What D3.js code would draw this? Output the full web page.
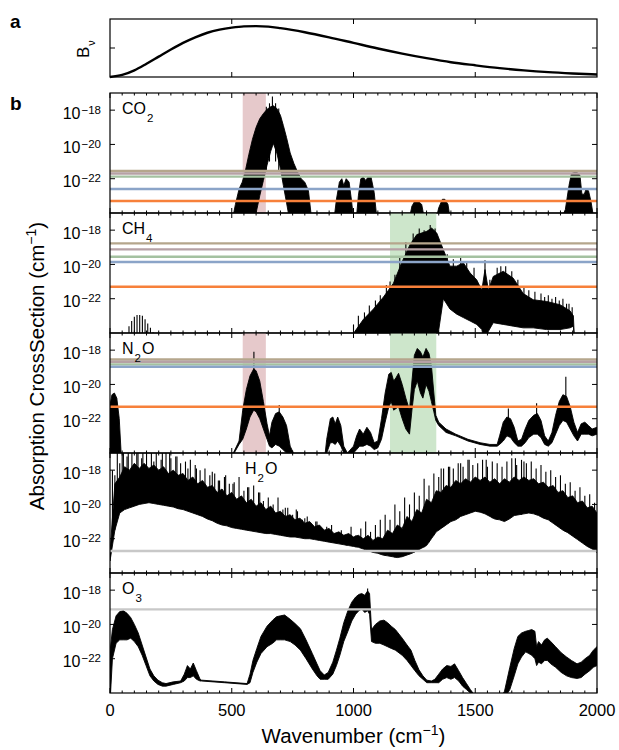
<!DOCTYPE html>
<html>
<head>
<meta charset="utf-8">
<script src="https://cdn.jsdelivr.net/npm/d3@7"></script>
<style>
  body { margin: 0; background: #fff; }
  svg { font-family: "Liberation Sans", Arial, Helvetica, sans-serif; }
</style>
</head>
<body>
<svg id="chart" width="619" height="750"></svg>
<script>
// ---- data (cross sections as log10 exponents) ----
const wnTicks = [0, 500, 1000, 1500, 2000];
const expTicks = [-18, -20, -22];

// panel a: Planck radiance, arbitrary units
const bvWn  = [0, 50, 100, 150, 200, 250, 300, 350, 400, 450, 500, 550, 600, 650, 700, 800, 900, 1000, 1100, 1200, 1300, 1400, 1500, 1600, 1700, 1800, 1900, 2000];
const bvVal = [0, 0.04, 0.13, 0.26, 0.40, 0.54, 0.67, 0.78, 0.87, 0.93, 0.97, 0.995, 1.0, 0.99, 0.96, 0.88, 0.78, 0.67, 0.56, 0.46, 0.37, 0.29, 0.23, 0.175, 0.13, 0.095, 0.07, 0.05];

// each segment: [wavenumber, upper envelope, lower envelope]
const co2Segments = [
  [[500,-24.8,-25],[515,-23.5,-25],[530,-22.6,-25],[543,-22.2,-25],[555,-21.6,-25],[570,-20.6,-25],[585,-19.7,-25],
   [600,-19.0,-24.0],[615,-18.5,-23.0],[630,-18.2,-22.1],[645,-17.95,-21.2],[660,-17.8,-20.4],[671,-17.75,-19.94],
   [685,-17.9,-20.5],[700,-18.3,-21.4],[712,-18.9,-22.4],[725,-19.6,-23.4],[740,-20.5,-24.6],[755,-21.1,-25],
   [770,-21.6,-25],[785,-22.0,-25],[800,-22.2,-25],[815,-22.7,-25],[830,-24.8,-25]],
  [[918,-24.8,-25],[930,-23.2,-25],[942,-22.2,-25],[952,-22.0,-25],[960,-22.4,-25],[970,-22.0,-25],[982,-22.2,-25],[992,-23.3,-25],[1002,-24.8,-25]],
  [[1010,-24.8,-25],[1020,-23.0,-25],[1030,-22.0,-25],[1040,-21.9,-25],[1050,-22.1,-25],[1060,-21.9,-25],[1072,-21.9,-25],[1085,-22.8,-25],[1098,-24.8,-25]],
  [[1225,-24.8,-25],[1240,-23.6,-25],[1252,-23.3,-25],[1265,-23.3,-25],[1280,-23.5,-25],[1295,-24.8,-25]],
  [[1335,-24.8,-25],[1350,-23.7,-25],[1365,-23.2,-25],[1375,-23.2,-25],[1388,-23.5,-25],[1400,-24.8,-25]],
  [[1845,-24.8,-25],[1870,-23.8,-25],[1885,-22.4,-25],[1895,-21.7,-25],[1915,-21.6,-25],[1930,-21.8,-25],[1938,-22.9,-25],
   [1948,-22.9,-25],[1955,-22.6,-25],[1965,-22.7,-25],[1975,-23.3,-25],[1990,-24.8,-25]]
];
const co2Spikes = [[667,-17.2,-20],[655,-17.6,-21],[680,-17.6,-21],[642,-17.8,-21.5],[693,-17.9,-21.5]];

const ch4Segments = [
  [[960,-24.8,-25],[985,-24.3,-25],[1006,-23.9,-25],[1041,-23.2,-25],[1082,-22.6,-25],[1123,-21.9,-25],[1164,-21.1,-25],
   [1198,-19.9,-25],[1232,-18.85,-25],[1260,-18.26,-25],[1301,-18.07,-25],[1321,-17.88,-25],[1342,-18.17,-25],
   [1369,-19.14,-22.0],[1396,-20.1,-22.6],[1424,-20.1,-22.9],[1451,-19.9,-23.1],[1479,-20.5,-23.3],[1506,-20.9,-23.5],
   [1527,-21.5,-23.8],[1540,-20.3,-25],[1554,-21.5,-23.9],[1574,-20.7,-23.4],[1615,-20.4,-23.5],[1656,-20.8,-23.6],
   [1697,-21.7,-23.7],[1738,-22.06,-23.7],[1793,-22.16,-23.8],[1848,-22.35,-23.8],[1889,-22.7,-23.7],[1903,-23.0,-23.6],[1908,-24.8,-25]]
];
const ch4Spikes = [
  [78,-23.6,-25],[89,-23.3,-25],[100,-23.05,-25],[111,-22.95,-25],[122,-22.95,-25],[133,-23.0,-25],
  [144,-23.2,-25],[155,-23.45,-25],[166,-23.7,-25],[177,-23.95,-25],[188,-24.2,-25],[199,-24.4,-25],
  [1000,-23.5,-25],[1020,-23.0,-25],[1045,-22.8,-25],[1065,-22.4,-25],[1090,-22.1,-25],[1110,-21.8,-25],[1135,-21.2,-25],
  [1150,-21.0,-25],[1170,-20.6,-22],[1190,-19.6,-22],[1215,-18.7,-21],[1245,-18.2,-21],[1270,-17.9,-21],[1290,-18.0,-21],
  [1315,-17.7,-21],[1335,-17.9,-21],[1385,-19.4,-22],[1410,-19.7,-22],[1440,-19.6,-22],[1465,-19.8,-22],[1495,-20.2,-23],
  [1540,-19.75,-23],[1560,-20.9,-23],[1590,-20.2,-23],[1605,-20.1,-23],[1625,-20.1,-23],[1650,-20.4,-23],[1675,-20.9,-23],
  [1700,-21.3,-23],[1720,-21.5,-23.5],[1745,-21.6,-23.5],[1770,-21.7,-23.5],[1785,-21.9,-23.5],[1800,-21.8,-23.5],
  [1815,-22.0,-23.5],[1830,-21.9,-23.5],[1845,-22.1,-23.5],[1860,-22.0,-23.5],[1875,-22.3,-23.5],[1885,-22.3,-23.5],[1898,-22.5,-23.5]
];

const n2oSegments = [
  [[0,-21.2,-25],[8,-20.6,-25],[18,-20.5,-25],[28,-20.8,-25],[38,-22.0,-25],[48,-24.6,-25]],
  [[490,-24.3,-24.4],[510,-23.9,-24.0],[530,-23.3,-23.5],[545,-21.5,-23.2],[560,-20.3,-22.6],[575,-19.5,-21.9],
   [590,-19.1,-21.5],[600,-19.2,-21.6],[615,-19.8,-22.0],[630,-21.0,-22.6],[645,-22.3,-23.2],[655,-23.0,-23.6],
   [665,-22.2,-23.7],[680,-21.7,-23.5],[695,-21.6,-23.6],[710,-21.9,-23.8],[725,-22.4,-24.0],[740,-23.6,-24.3],
   [760,-24.2,-24.5],[800,-24.8,-25],[880,-24.5,-25],
   [890,-23.2,-24.0],[905,-22.0,-23.4],[915,-21.9,-23.4],[925,-22.3,-23.5],[935,-21.9,-23.3],[948,-22.4,-23.6],[960,-23.6,-24.0],[975,-24.0,-24.2],
   [1000,-23.6,-24.0],[1013,-23.0,-23.8],[1025,-22.6,-23.6],[1040,-22.9,-23.6],[1055,-22.5,-23.5],[1070,-22.8,-23.6],[1085,-23.4,-23.8],[1100,-23.3,-23.7],
   [1115,-22.0,-23.2],[1130,-20.5,-22.2],[1145,-19.4,-21.3],[1155,-19.3,-21.0],[1165,-19.8,-21.5],[1175,-19.6,-21.4],[1185,-19.35,-21.3],
   [1200,-20.0,-22.0],[1215,-20.8,-22.6],[1230,-21.5,-22.9],[1240,-19.8,-21.5],[1250,-18.3,-20.3],[1262,-17.9,-19.8],[1275,-18.1,-20.5],
   [1285,-18.4,-20.8],[1298,-17.9,-20.0],[1310,-18.2,-20.4],[1320,-18.9,-21.0],[1330,-20.5,-21.6],[1338,-21.8,-22.1],[1350,-22.2,-22.4],
   [1380,-22.6,-22.8],[1420,-22.9,-23.0],[1470,-23.2,-23.3],[1520,-23.4,-23.5],[1560,-23.5,-23.6],[1590,-23.5,-23.6],
   [1600,-23.0,-23.5],[1615,-22.2,-23.3],[1630,-21.9,-23.0],[1645,-22.0,-23.1],[1660,-22.5,-23.4],[1675,-23.3,-23.6],[1690,-23.2,-23.6],
   [1705,-22.6,-23.4],[1720,-22.1,-23.1],[1740,-21.8,-22.9],[1755,-21.7,-22.9],[1770,-22.1,-23.1],[1785,-23.0,-23.5],[1800,-23.3,-23.6],
   [1815,-22.8,-23.4],[1830,-21.8,-22.9],[1845,-21.0,-22.4],[1860,-20.6,-22.1],[1875,-20.7,-22.2],[1890,-21.3,-22.6],[1905,-22.2,-23.0],
   [1920,-22.8,-23.3],[1935,-22.3,-22.9],[1950,-22.2,-22.9],[1965,-22.4,-22.9],[1980,-22.6,-23.0],[2000,-22.5,-22.9]]
];
const n2oSpikes = [[591,-18.1,-20.5],[695,-21.2,-22.5],[1636,-21.4,-22.5],[1752,-21.1,-22.3],[1872,-19.55,-21.5]];

const h2oSegments = [
  [[0,-22.8,-23.3],[20,-18.8,-21.5],[40,-18.4,-20.5],[60,-17.8,-20.3],[80,-18.0,-20.2],[100,-17.6,-20.1],[120,-17.9,-20.0],
   [140,-17.6,-19.95],[160,-17.9,-19.9],[180,-17.7,-19.95],[200,-18.0,-20.0],[220,-17.8,-20.05],[240,-18.2,-20.1],[260,-18.0,-20.15],
   [280,-18.3,-20.25],[300,-18.2,-20.3],[320,-18.6,-20.4],[340,-18.4,-20.5],[360,-18.8,-20.6],[380,-18.6,-20.7],[400,-19.0,-20.85],
   [420,-18.9,-20.95],[440,-19.3,-21.1],[460,-19.1,-21.2],[480,-19.5,-21.25],[500,-19.3,-21.35],[520,-19.7,-21.4],[540,-19.5,-21.45],
   [560,-19.9,-21.5],[580,-19.7,-21.55],[600,-20.1,-21.6],[620,-19.9,-21.65],[640,-20.3,-21.7],[660,-20.1,-21.7],[680,-20.5,-21.75],
   [700,-20.4,-21.8],[720,-20.7,-21.85],[740,-20.6,-21.9],[760,-20.9,-21.9],[780,-20.8,-21.95],[800,-21.1,-22.0],[820,-21.0,-22.0],
   [840,-21.3,-22.05],[860,-21.2,-22.1],[880,-21.5,-22.15],[900,-21.4,-22.2],[920,-21.7,-22.25],[940,-21.6,-22.3],[960,-21.8,-22.35],
   [980,-21.7,-22.4],[1000,-21.9,-22.45],[1020,-21.8,-22.5],[1040,-22.0,-22.6],[1060,-21.8,-22.7],[1080,-22.1,-22.8],[1100,-21.9,-22.85],
   [1120,-22.0,-22.95],[1140,-21.5,-23.0],[1160,-21.7,-23.05],[1180,-21.2,-23.1],[1200,-21.4,-23.05],[1220,-20.7,-22.95],[1240,-21.0,-22.85],
   [1260,-20.3,-22.7],[1280,-20.5,-22.55],[1300,-19.7,-22.4],[1320,-19.9,-22.0],[1340,-19.2,-21.6],[1360,-19.3,-21.4],[1380,-18.9,-21.2],
   [1400,-19.0,-21.0],[1420,-18.6,-20.9],[1440,-18.8,-20.7],[1460,-18.5,-20.6],[1480,-18.7,-20.5],[1500,-18.4,-20.4],[1520,-18.6,-20.45],
   [1540,-18.4,-20.55],[1560,-18.7,-20.7],[1580,-18.5,-20.85],[1600,-18.8,-20.9],[1620,-18.5,-21.0],[1640,-18.7,-20.85],[1660,-18.4,-20.65],
   [1680,-18.6,-20.6],[1700,-18.4,-20.55],[1720,-18.6,-20.5],[1740,-18.5,-20.55],[1760,-18.8,-20.65],[1780,-18.7,-20.8],[1800,-19.0,-20.9],
   [1820,-18.9,-21.1],[1840,-19.3,-21.3],[1860,-19.2,-21.5],[1880,-19.6,-21.65],[1900,-19.5,-21.85],[1920,-19.9,-22.05],[1940,-19.8,-22.25],
   [1960,-20.2,-22.45],[1980,-20.1,-22.6],[2000,-20.5,-22.8]]
];
// individual strong lines: [wavenumber, line top, line foot]
const h2oSpikes = [
  [10,-18.0,-21.5],[20,-18.3,-21.5],[30,-17.0,-19.5],[40,-17.6,-20],[50,-17.0,-19],[55,-17,-19],[70,-17.2,-18.5],[75,-17,-19],
  [90,-17,-19],[110,-17.0,-18.3],[115,-17,-19],[130,-17.3,-18.3],[135,-17,-19],[150,-17.0,-18.3],[170,-17,-19],[180,-17.5,-18.3],
  [190,-17,-19],[210,-17.4,-18.5],[215,-17,-19],[230,-17.0,-18.6],[245,-17,-19],[250,-17.3,-18.7],[270,-17.2,-18.8],[275,-17.2,-19],
  [290,-17.6,-18.9],[310,-17.5,-19.0],[320,-17.9,-19.2],[330,-17.4,-19.2],[350,-17.7,-19.3],[355,-17.9,-19.4],[370,-18.0,-19.5],
  [390,-17.9,-19.6],[410,-18.3,-19.8],[420,-18.1,-19.8],[430,-18.2,-19.9],[445,-18.6,-20],[450,-18.6,-20.1],[470,-18.4,-20.2],
  [475,-18.3,-20.2],[490,-18.8,-20.4],[505,-18.8,-20.4],[510,-18.7,-20.5],[530,-18.4,-20.6],[550,-19.2,-20.8],[565,-19.0,-20.8],
  [570,-19.0,-20.9],[590,-18.9,-21],[610,-19.3,-21.1],[615,-19.3,-21],[630,-19.8,-21.2],[650,-19.6,-21.3],[670,-20.0,-21.4],
  [690,-19.6,-21.4],[710,-20.3,-21.6],[720,-20.2,-21.5],[730,-20.2,-21.6],[750,-20.6,-21.7],[765,-20.3,-21.6],[770,-20.4,-21.8],
  [790,-20.9,-21.9],[800,-20.8,-21.8],[810,-20.7,-21.9],[830,-21.2,-22.0],[845,-21.0,-22],[850,-21.0,-22.0],[870,-21.5,-22.1],
  [890,-21.3,-22.1],[910,-21.2,-22.2],[930,-21.7,-22.2],[950,-21.5,-22.3],[970,-21.9,-22.4],[990,-21.3,-22.4],[1010,-21.8,-22.5],
  [1030,-21.4,-22.5],[1050,-21.0,-22.6],[1070,-21.6,-22.7],[1090,-21.2,-22.8],[1110,-20.9,-22.9],[1130,-20.6,-23.0],[1150,-20.9,-23.0],
  [1170,-20.0,-23.1],[1190,-20.4,-23.0],[1210,-19.6,-23.0],[1230,-20.0,-22.9],[1250,-19.3,-22.8],[1270,-19.5,-22.6],[1290,-18.5,-22.5],
  [1310,-18.9,-22.2],[1330,-18.2,-21.8],[1350,-18.4,-21.5],[1360,-17.9,-20.5],[1370,-17.9,-21.3],[1390,-17.8,-21.1],[1395,-17.8,-20],
  [1410,-17.9,-20.9],[1430,-17.6,-20.8],[1440,-17.6,-19.5],[1450,-17.8,-20.6],[1470,-17.4,-20.5],[1475,-17.4,-19.5],[1490,-17.7,-20.4],
  [1510,-17.6,-20.4],[1530,-17.4,-20.5],[1545,-17.4,-19.5],[1550,-17.8,-20.6],[1570,-17.5,-20.8],[1590,-17.6,-20.9],[1610,-17.8,-20.9],
  [1630,-17.5,-20.9],[1650,-17.3,-20.7],[1665,-17.3,-19.5],[1670,-17.7,-20.6],[1690,-17.4,-20.6],[1700,-17.5,-19.5],[1710,-17.6,-20.5],
  [1730,-17.5,-20.5],[1750,-17.9,-20.6],[1770,-17.7,-20.7],[1790,-18.1,-20.8],[1810,-18.0,-21.0],[1830,-18.4,-21.2],[1850,-18.3,-21.4],
  [1870,-18.8,-21.6],[1890,-18.7,-21.7],[1910,-19.2,-21.9],[1930,-19.0,-22.1],[1950,-19.5,-22.3],[1970,-19.4,-22.5],[1990,-19.9,-22.7]
];

const o3Segments = [
  [[0,-21.6,-25],[10,-20.3,-22.0],[25,-19.5,-21.1],[40,-19.25,-20.9],[55,-19.2,-20.9],[70,-19.35,-20.9],[85,-19.6,-20.8],
   [100,-20.0,-21.0],[116,-20.5,-21.3],[132,-21.2,-21.8],[148,-21.9,-22.4],[164,-22.6,-23.0],[180,-23.0,-23.3],[197,-23.25,-23.5],
   [215,-23.4,-23.6],[230,-23.45,-23.6],[260,-23.35,-23.5],[290,-23.3,-23.4],[305,-22.9,-23.3],[318,-22.4,-23.1],[330,-22.6,-23.1],
   [342,-22.25,-23.0],[355,-22.7,-23.2],[370,-23.2,-23.3],[376,-23.25,-23.3],[470,-23.35,-23.4],[563,-23.45,-23.5],[575,-22.9,-23.4],
   [587,-22.1,-22.8],[603,-21.4,-22.2],[620,-20.7,-21.7],[645,-20.1,-21.3],[668,-19.75,-21.1],[684,-19.55,-20.9],[700,-19.5,-20.9],
   [717,-19.45,-20.9],[740,-19.7,-21.0],[760,-19.95,-21.2],[782,-20.25,-21.5],[805,-20.9,-22.0],[831,-21.7,-22.6],[850,-22.3,-23.0],
   [863,-22.7,-23.2],[880,-22.95,-23.2],[896,-22.8,-23.2],[915,-22.2,-22.9],[930,-21.5,-22.4],[944,-20.8,-21.8],[960,-19.9,-21.0],
   [977,-19.2,-20.4],[993,-18.7,-19.8],[1009,-18.4,-19.4],[1022,-18.25,-19.2],[1034,-18.2,-19.1],[1046,-18.3,-19.3],[1058,-18.05,-19.2],
   [1066,-18.2,-19.4],[1074,-20.3,-21.0],[1090,-20.0,-21.1],[1108,-19.8,-21.1],[1125,-19.75,-21.2],[1140,-19.9,-21.3],[1155,-20.1,-21.4],
   [1172,-20.3,-21.5],[1200,-20.8,-21.8],[1220,-21.2,-22.1],[1236,-21.5,-22.4],[1252,-22.1,-22.7],[1269,-22.65,-23.0],[1285,-23.0,-23.2],
   [1301,-23.25,-23.4],[1320,-23.3,-23.4],[1334,-23.2,-23.4],[1350,-22.9,-23.4],[1366,-22.6,-23.2],[1383,-22.4,-23.1],[1400,-22.45,-23.2],
   [1415,-22.3,-23.1],[1432,-22.7,-23.3],[1448,-23.1,-23.6],[1464,-23.45,-23.8],[1480,-23.8,-24.0],[1496,-24.1,-24.3],[1530,-24.3,-24.5],
   [1560,-24.5,-24.7],[1600,-24.4,-24.6],[1620,-23.9,-24.3],[1642,-22.5,-23.8],[1660,-21.4,-23.0],[1675,-20.7,-22.3],[1690,-20.5,-21.9],
   [1707,-20.4,-21.6],[1720,-20.35,-21.7],[1732,-20.3,-21.8],[1745,-20.4,-22.0],[1752,-21.3,-22.4],[1760,-21.0,-22.2],[1772,-21.2,-22.3],
   [1785,-20.9,-22.1],[1796,-20.8,-22.1],[1810,-21.0,-22.3],[1830,-21.3,-22.5],[1853,-21.65,-22.8],[1875,-21.9,-23.0],[1895,-22.1,-23.1],
   [1918,-22.3,-23.15],[1935,-22.2,-23.1],[1951,-22.0,-22.9],[1970,-21.8,-22.7],[1985,-21.5,-22.5],[2000,-21.3,-22.4]]
];
const o3Spikes = [[1058,-17.9,-19.2]];

// horizontal reference levels per gas (log10) and their colours
const levelColors = ["#b5a68c", "#b6a1a5", "#a4c1a0", "#8ba4c8", "#f7803a"];
const co2Levels = [-21.55, -21.7, -21.88, -22.6, -23.3];
const ch4Levels = [-18.77, -19.12, -19.55, -19.86, -21.3];
const n2oLevels = [-18.55, -18.68, -18.83, -18.97, -21.3];
const h2oLevels = [-22.72];
const o3Levels  = [-19.12];
const grayLevel = "#c8c8c8";

// shaded spectral windows
const co2Band = [545, 640];
const ch4Band = [1150, 1340];

const gasLabels = [["CO", "2", ""], ["CH", "4", ""], ["N", "2", "O"], ["H", "2", "O"], ["O", "3", ""]];

// ---- drawing ----
const svg = d3.select("#chart");
const left = 110, right = 597;
const x = d3.scaleLinear().domain([0, 2000]).range([left, right]);

// panel a
const aTop = 19, aBottom = 77;
const yB = d3.scaleLinear().domain([0, 1.14]).range([aBottom, aTop]);
svg.append("path")
    .datum(bvWn.map((w, i) => [w, bvVal[i]]))
    .attr("fill", "none")
    .attr("stroke", "#000")
    .attr("stroke-width", 2.4)
    .attr("d", d3.line().x(d => x(d[0])).y(d => yB(d[1])).curve(d3.curveMonotoneX));

svg.append("rect")
    .attr("x", left).attr("y", aTop).attr("width", right - left).attr("height", aBottom - aTop)
    .attr("fill", "none").attr("stroke", "#000").attr("stroke-width", 1.2);

[500, 1000, 1500].forEach(t => {
    svg.append("line").attr("x1", x(t)).attr("x2", x(t)).attr("y1", aBottom).attr("y2", aBottom - 5).attr("stroke", "#000");
    svg.append("line").attr("x1", x(t)).attr("x2", x(t)).attr("y1", aTop).attr("y2", aTop + 5).attr("stroke", "#000");
});
const midB = yB(0.57);
svg.append("line").attr("x1", left).attr("x2", left + 5).attr("y1", midB).attr("y2", midB).attr("stroke", "#000");
svg.append("line").attr("x1", right).attr("x2", right - 5).attr("y1", midB).attr("y2", midB).attr("stroke", "#000");

const bLabel = svg.append("text")
    .attr("transform", `translate(89,${midB + 10}) rotate(-90)`)
    .attr("font-size", 17);
bLabel.append("tspan").text("B");
bLabel.append("tspan").attr("font-size", 11).attr("dy", 6).attr("dx", 1).text("ν");

svg.append("text").attr("x", 10).attr("y", 28).attr("font-size", 19).attr("font-weight", "bold").text("a");
svg.append("text").attr("x", 10).attr("y", 110).attr("font-size", 19).attr("font-weight", "bold").text("b");

// panel b
const panels = [
  { segs: co2Segments, spikes: co2Spikes, levels: co2Levels, colors: levelColors, bands: [[co2Band, "#e6c9cb"]], lx: 122 },
  { segs: ch4Segments, spikes: ch4Spikes, levels: ch4Levels, colors: levelColors, bands: [[ch4Band, "#cde6cb"]], lx: 122 },
  { segs: n2oSegments, spikes: n2oSpikes, levels: n2oLevels, colors: levelColors, bands: [[co2Band, "#e6c9cb"], [ch4Band, "#cde6cb"]], lx: 122 },
  { segs: h2oSegments, spikes: h2oSpikes, levels: h2oLevels, colors: [grayLevel], bands: [], lx: 245 },
  { segs: o3Segments, spikes: o3Spikes, levels: o3Levels, colors: [grayLevel], bands: [], lx: 122 }
];

const pTop0 = 93, pH = 120;
const minorTicks = d3.range(0, 2001, 50);

panels.forEach((p, i) => {
    const top = pTop0 + i * pH, bottom = top + pH;
    const y = d3.scaleLog().domain([1e-24, 1e-17]).range([bottom, top]);
    const ey = v => y(Math.pow(10, v));
    const g = svg.append("g");

    svg.append("clipPath").attr("id", "clip" + i)
      .append("rect").attr("x", left).attr("y", top).attr("width", right - left).attr("height", pH);
    const inner = g.append("g").attr("clip-path", `url(#clip${i})`);

    p.bands.forEach(([b, c]) => {
        inner.append("rect")
            .attr("x", x(b[0])).attr("y", top)
            .attr("width", x(b[1]) - x(b[0])).attr("height", pH)
            .attr("fill", c);
    });

    const area = d3.area()
        .x(d => x(d[0]))
        .y0(d => ey(Math.max(d[2], -24.6)))
        .y1(d => ey(Math.max(d[1], -24.6)));

    inner.selectAll("path.spec")
        .data(p.segs)
        .enter().append("path")
        .attr("class", "spec")
        .attr("fill", "#000")
        .attr("stroke", "#000")
        .attr("stroke-width", 0.9)
        .attr("stroke-linejoin", "round")
        .attr("d", area);

    inner.selectAll("line.spike")
        .data(p.spikes)
        .enter().append("line")
        .attr("class", "spike")
        .attr("x1", d => x(d[0])).attr("x2", d => x(d[0]))
        .attr("y1", d => ey(d[1])).attr("y2", d => ey(Math.max(d[2], -24.6)))
        .attr("stroke", "#000")
        .attr("stroke-width", 1.1);

    inner.selectAll("line.level")
        .data(p.levels)
        .enter().append("line")
        .attr("class", "level")
        .attr("x1", left).attr("x2", right)
        .attr("y1", d => ey(d)).attr("y2", d => ey(d))
        .attr("stroke", (d, k) => p.colors[k])
        .attr("stroke-width", 2.4);

    g.append("rect")
        .attr("x", left).attr("y", top).attr("width", right - left).attr("height", pH)
        .attr("fill", "none").attr("stroke", "#000").attr("stroke-width", 1.2);

    minorTicks.forEach(t => {
        const len = wnTicks.includes(t) ? 5 : 2.5;
        g.append("line").attr("x1", x(t)).attr("x2", x(t)).attr("y1", bottom).attr("y2", bottom - len).attr("stroke", "#000");
        g.append("line").attr("x1", x(t)).attr("x2", x(t)).attr("y1", top).attr("y2", top + len).attr("stroke", "#000");
    });

    expTicks.forEach(e => {
        const ty = ey(e);
        g.append("line").attr("x1", left).attr("x2", left + 5).attr("y1", ty).attr("y2", ty).attr("stroke", "#000");
        g.append("line").attr("x1", right).attr("x2", right - 5).attr("y1", ty).attr("y2", ty).attr("stroke", "#000");
        const t = g.append("text")
            .attr("x", 101).attr("y", ty + 8.4)
            .attr("text-anchor", "end")
            .attr("font-size", 16);
        t.append("tspan").text("10");
        t.append("tspan").attr("font-size", 11.5).attr("dy", -5).attr("dx", 1).text("\u2212" + Math.abs(e));
    });

    const [main, sub, tail] = gasLabels[i];
    const lab = g.append("text").attr("x", p.lx).attr("y", top + 21).attr("font-size", 16);
    lab.append("tspan").text(main);
    lab.append("tspan").attr("font-size", 11.5).attr("dy", 8).attr("dx", 1).text(sub);
    if (tail) lab.append("tspan").attr("dy", -8).attr("dx", 1).text(tail);
});

// x axis labels
const bottomAll = pTop0 + 5 * pH;
svg.append("g").selectAll("text")
    .data(wnTicks)
    .enter().append("text")
    .attr("x", d => x(d))
    .attr("y", bottomAll + 23)
    .attr("text-anchor", "middle")
    .attr("font-size", 16.5)
    .text(d => d);

const xt = svg.append("text")
    .attr("x", (left + right) / 2)
    .attr("y", 743)
    .attr("text-anchor", "middle")
    .attr("font-size", 20.5);
xt.append("tspan").text("Wavenumber (cm");
xt.append("tspan").attr("font-size", 14).attr("dy", -8).text("\u22121");
xt.append("tspan").attr("dy", 8).text(")");

const yt = svg.append("text")
    .attr("transform", `translate(44,366) rotate(-90)`)
    .attr("text-anchor", "middle")
    .attr("font-size", 20.5);
yt.append("tspan").text("Absorption CrossSection (cm");
yt.append("tspan").attr("font-size", 14).attr("dy", -8).text("\u22121");
yt.append("tspan").attr("dy", 8).text(")");
</script>
</body>
</html>
